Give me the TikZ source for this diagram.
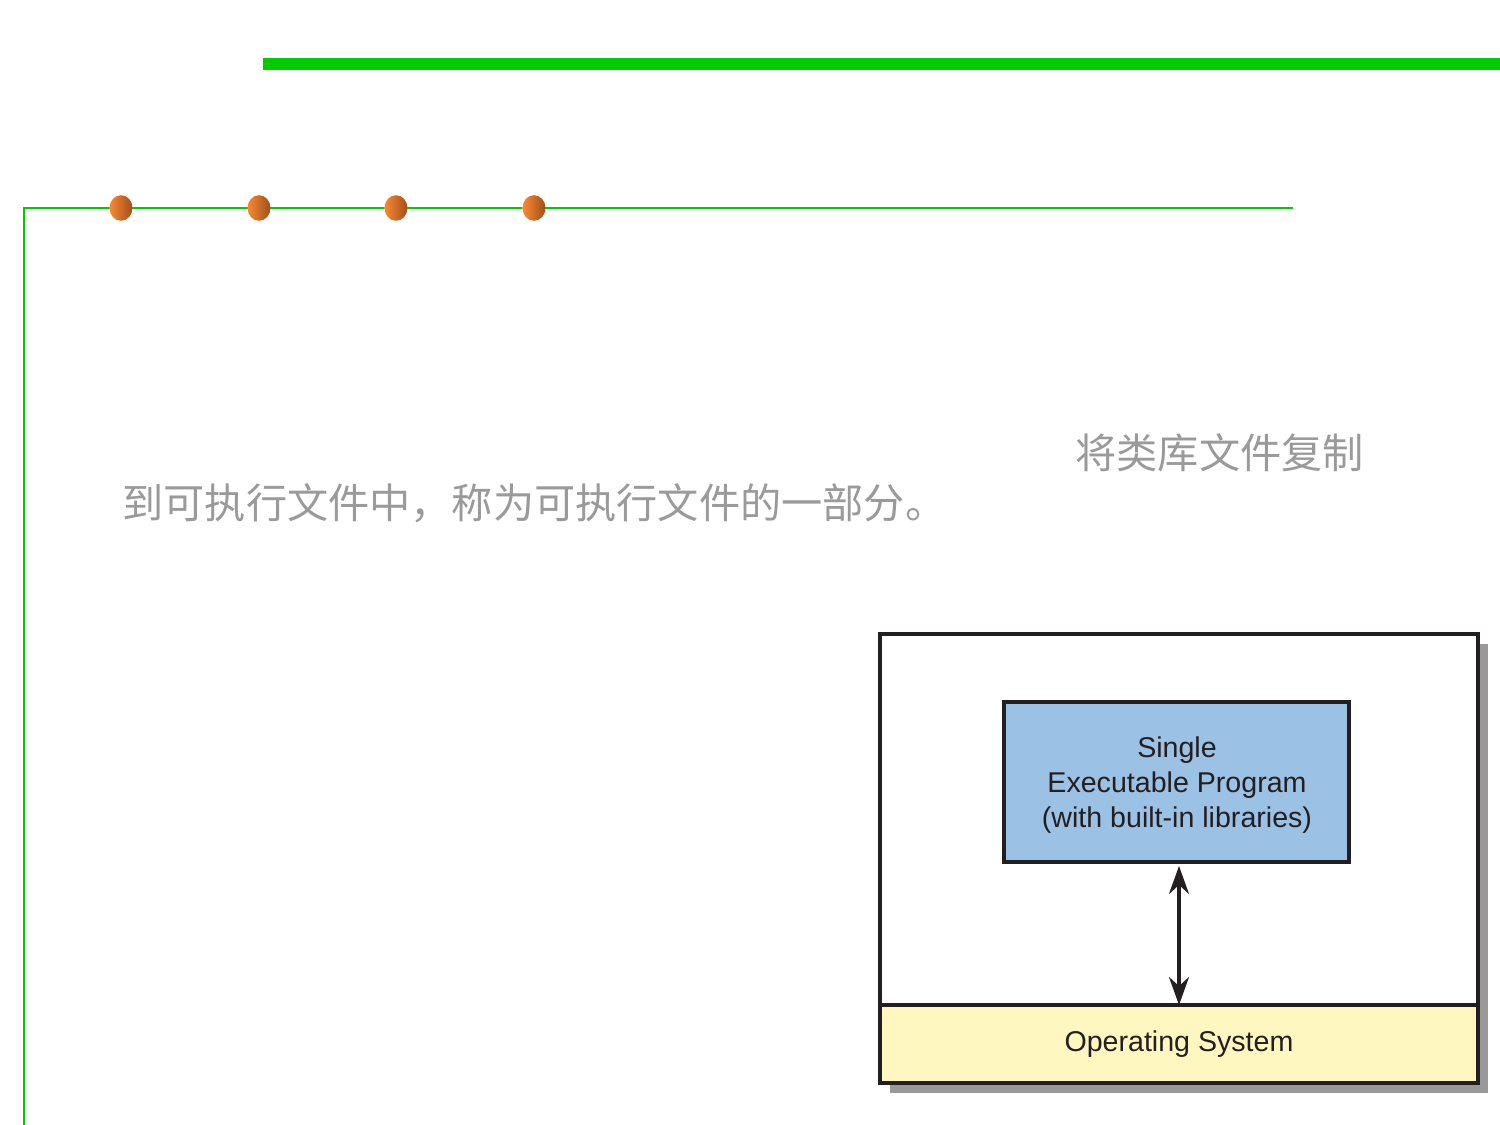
\documentclass[tikz,border=0pt]{standalone}
\usepackage{fontspec}
\setmainfont{Liberation Sans}
\newfontfamily\cjk{Noto Sans CJK SC}
\usetikzlibrary{shapes.geometric,arrows.meta}
\definecolor{barGreen}{HTML}{00CC00}
\definecolor{dotLight}{HTML}{F88A32}
\definecolor{dotDark}{HTML}{A24E1C}
\definecolor{ink}{HTML}{231F20}
\definecolor{progBlue}{HTML}{9BC1E5}
\definecolor{osYellow}{HTML}{FFF6C0}
\definecolor{shadowGray}{HTML}{999999}
\definecolor{noteGray}{HTML}{9A9A9A}
\tikzset{
  dotmark/.style={ellipse, minimum width=11.5pt, minimum height=12.8pt, inner sep=0pt,
    left color=dotLight, right color=dotDark, draw=none},
  frame/.style={draw=ink, line width=2pt, inner sep=0pt, outer sep=0pt},
  label/.style={font=\fontsize{14.3pt}{17.5pt}\selectfont, text=ink, align=center},
  note/.style={font=\cjk\fontsize{20.6pt}{24pt}\selectfont, text=noteGray, inner sep=0pt, anchor=west},
  link/.style={draw=ink, line width=1.6pt, {Stealth[length=14pt,width=10pt]}-{Stealth[length=14pt,width=10pt]}}
}
\begin{document}
\begin{tikzpicture}[x=0.5pt,y=-0.5pt]
\useasboundingbox (0,0) rectangle (1500,1125);
% heading rule
\fill[barGreen] (263,58) rectangle (1500,70);
% bracket line with bullets
\draw[barGreen, line width=1pt] (24,1125) -- (24,208) -- (1293,208);
\foreach \i/\x in {1/121,2/259,3/396,4/534}
  \node[dotmark] (dot\i) at (\x,208) {};
% notes
\node[note] (note1) at (1075,453) {将类库文件复制};
\node[note] (note2) at (122,503) {到可执行文件中，称为可执行文件的一部分。};
% diagram: shadow, frame, OS layer, program
\fill[shadowGray] (890,644) rectangle (1488,1093);
\node[frame, fill=white, minimum width=299pt, minimum height=224.5pt] (sys) at (1179,858.5) {};
\node[frame, fill=osYellow, minimum width=299pt, minimum height=39pt, label] (os) at (1179,1044) {Operating System};
\node[frame, fill=progBlue, minimum width=172.5pt, minimum height=80pt] (prog) at (1176.5,782) {};
\node[label, inner sep=0pt] (progtext) at (1177,785)
  {Single\\Executable Program\\(with built-in libraries)};
\draw[link] ([yshift=-2pt]prog.south -| os.north) -- (os.north);
\end{tikzpicture}
\end{document}
